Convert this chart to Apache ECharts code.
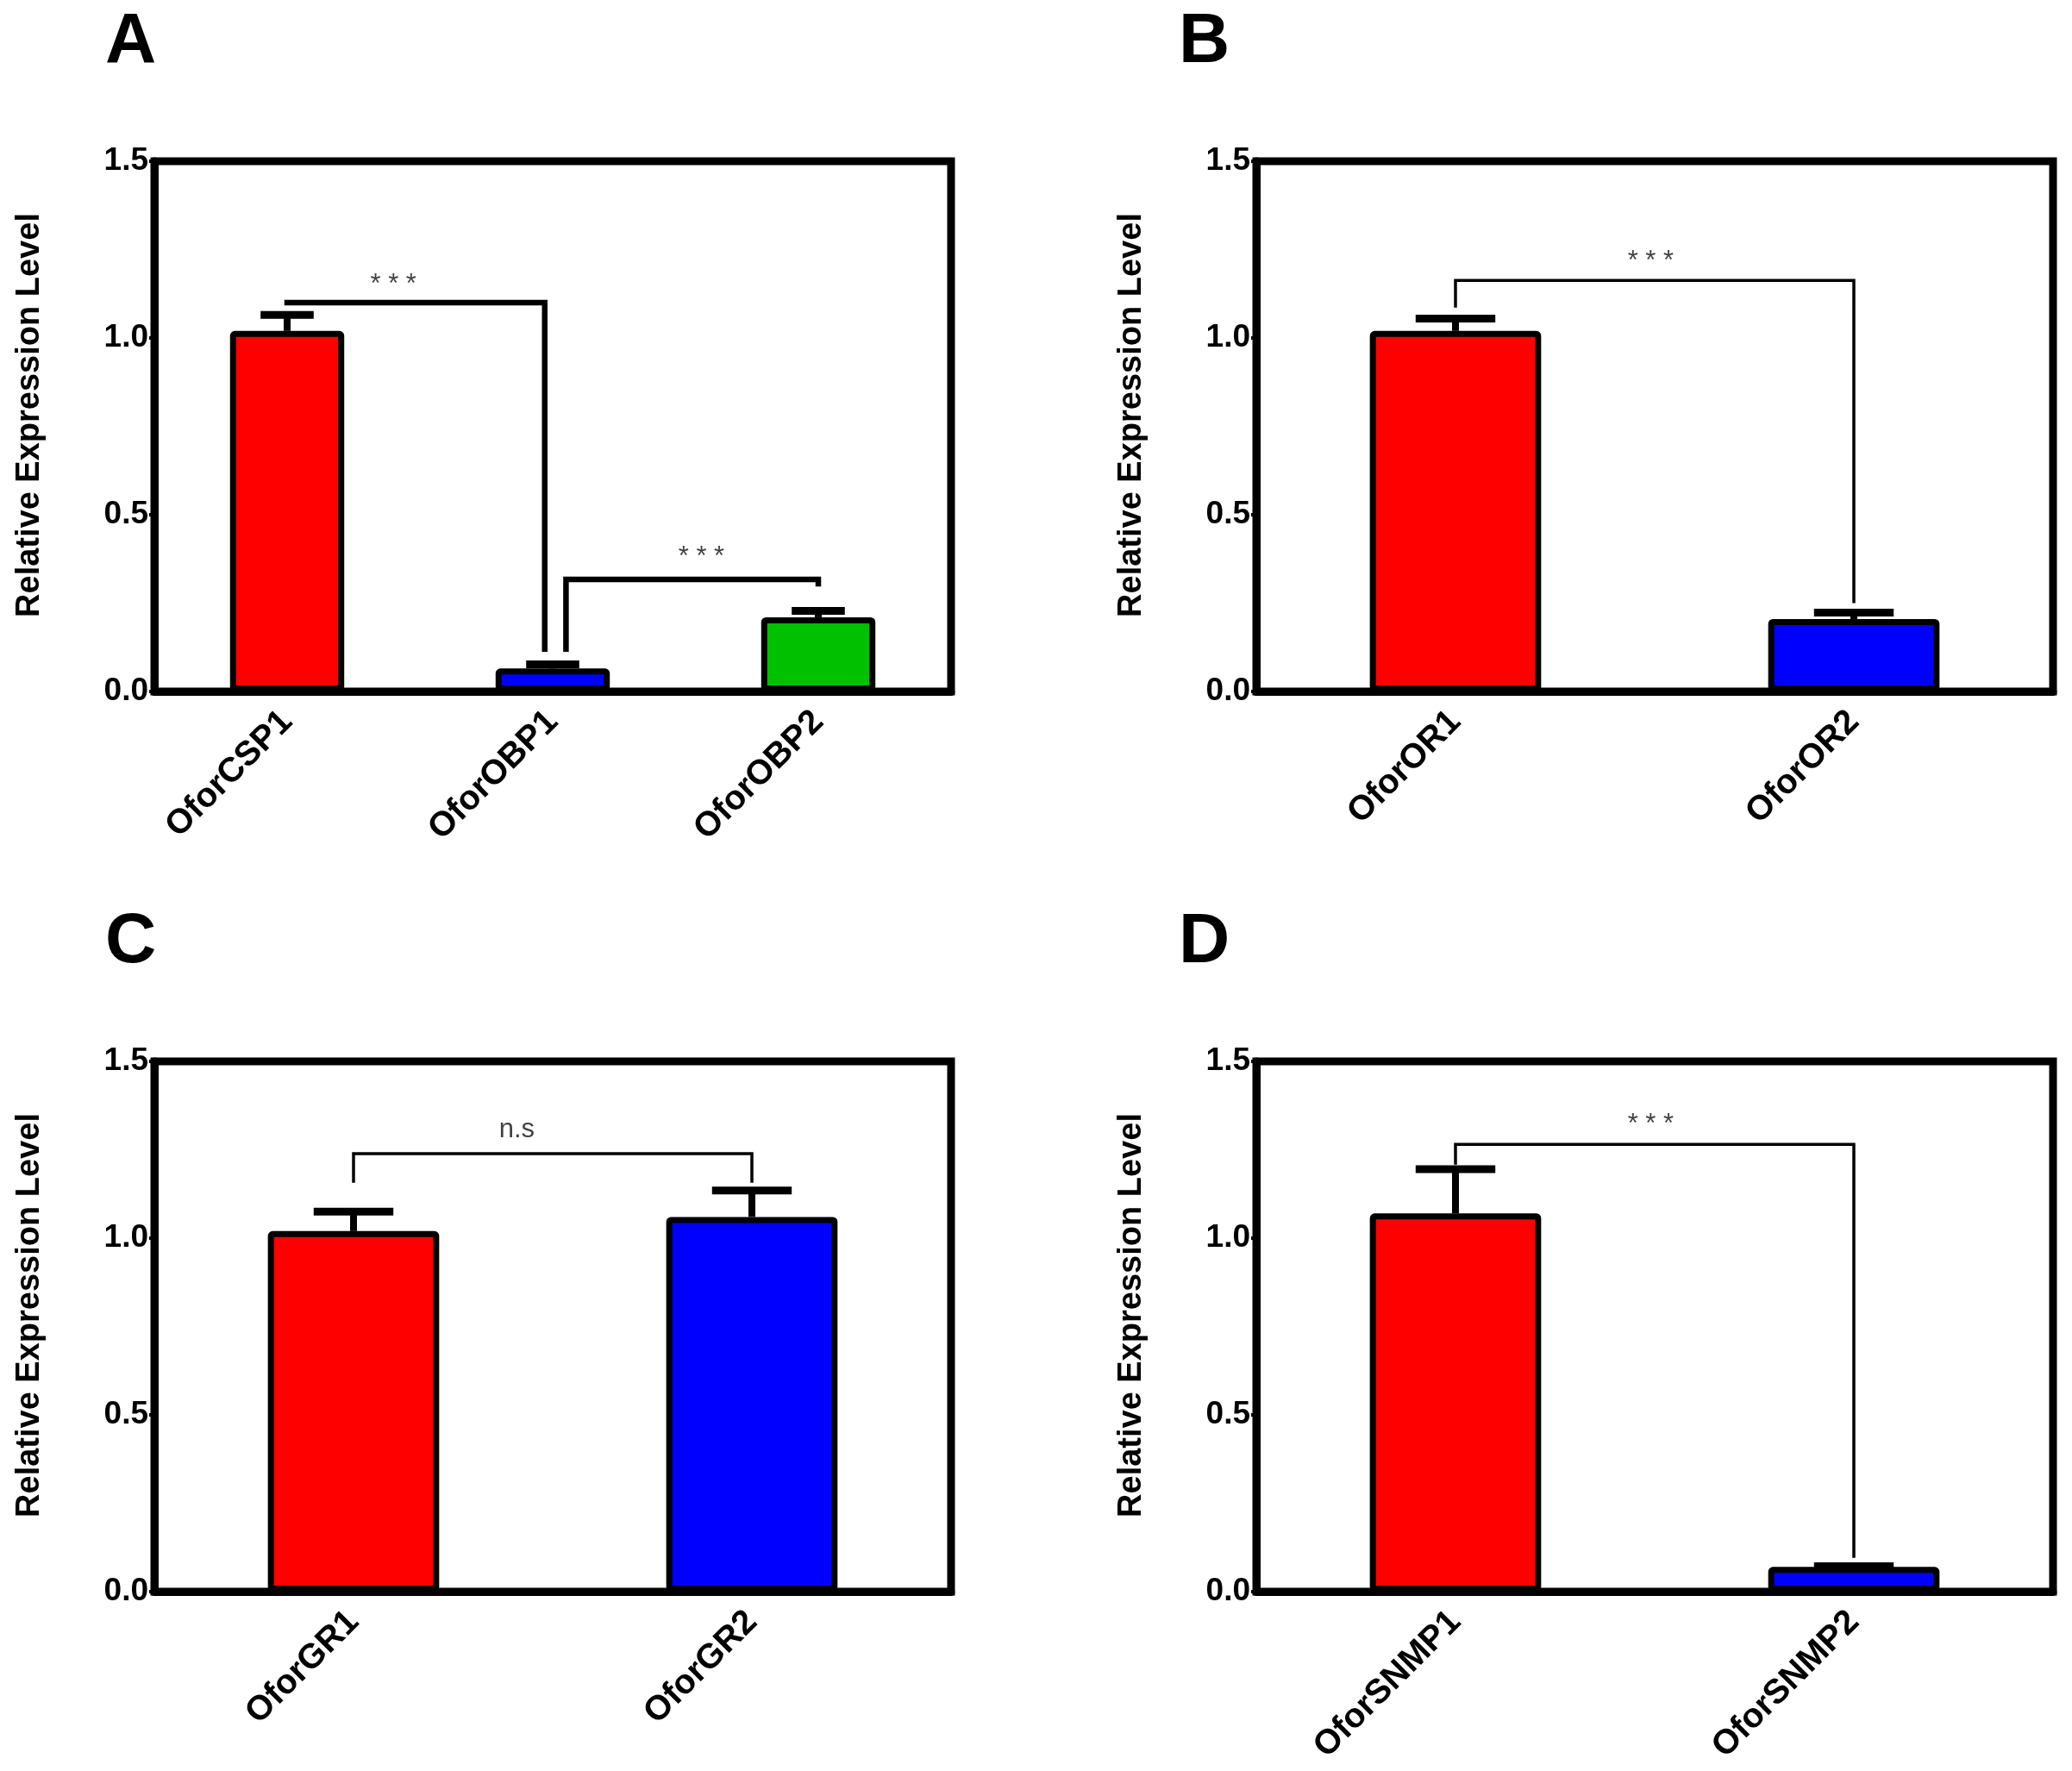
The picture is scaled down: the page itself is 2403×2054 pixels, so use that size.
<!DOCTYPE html>
<html>
<head>
<meta charset="utf-8">
<title>Relative Expression Level</title>
<script src="https://cdn.jsdelivr.net/npm/echarts@6.0.0/dist/echarts.min.js"></script>
<style>
  html, body { margin: 0; padding: 0; background: #fff; }
  #chart { width: 2403px; height: 2054px; }
</style>
</head>
<body>
<div id="chart"></div>
<script>
// panel A
var catsA = ['OforCSP1', 'OforOBP1', 'OforOBP2'];
var meanA = [1.02, 0.065, 0.21];
var errA = [0.045, 0.012, 0.018];
var colorsA = ['#ff0000', '#0000ff', '#00c000'];
var bracketsA = [
  [[0, 1.10], [0.97, 1.10], [0.97, 0.12]],
  [[1.05, 0.12], [1.05, 0.317], [2, 0.317], [2, 0.305]]
];
var sigA = [[0.40, 1.149, '* * *'], [1.56, 0.38, '* * *']];

// panel B
var catsB = ['OforOR1', 'OforOR2'];
var meanB = [1.02, 0.205];
var errB = [0.035, 0.018];
var colorsB = ['#ff0000', '#0000ff'];
var bracketsB = [
  [[0, 1.09], [0, 1.163], [1, 1.163], [1, 0.254]]
];
var sigB = [[0.49, 1.217, '* * *']];

// panel C
var catsC = ['OforGR1', 'OforGR2'];
var meanC = [1.02, 1.06];
var errC = [0.055, 0.075];
var colorsC = ['#ff0000', '#0000ff'];
var bracketsC = [
  [[0, 1.161], [0, 1.239], [1, 1.239], [1, 1.161]]
];
var sigC = [[0.41, 1.307, 'n.s']];

// panel D
var catsD = ['OforSNMP1', 'OforSNMP2'];
var meanD = [1.07, 0.07];
var errD = [0.125, 0.002];
var colorsD = ['#ff0000', '#0000ff'];
var bracketsD = [
  [[0, 1.212], [0, 1.265], [1, 1.265], [1, 0.10]]
];
var sigD = [[0.49, 1.32, '* * *']];

var yTicks = [0, 0.5, 1.0, 1.5];
var yName = 'Relative Expression Level';
var panelLetters = ['A', 'B', 'C', 'D'];

var FONT = '"Liberation Sans", Arial, sans-serif';

var panels = [
  { cats: catsA, mean: meanA, err: errA, colors: colorsA, brackets: bracketsA, sig: sigA, bw: 6.5 },
  { cats: catsB, mean: meanB, err: errB, colors: colorsB, brackets: bracketsB, sig: sigB, bw: 3.5 },
  { cats: catsC, mean: meanC, err: errC, colors: colorsC, brackets: bracketsC, sig: sigC, bw: 3.5 },
  { cats: catsD, mean: meanD, err: errD, colors: colorsD, brackets: bracketsD, sig: sigD, bw: 3.5 }
];

var gridPos = [
  { left: 179, top: 187 },
  { left: 1457, top: 187 },
  { left: 179, top: 1231 },
  { left: 1457, top: 1231 }
];
var letterPos = [[122, 48], [1367, 48], [122, 1092], [1367, 1092]];

function renderErr(params, api) {
  var x = api.value(0), y = api.value(1), e = api.value(2);
  var base = api.coord([x, y]);
  var top = api.coord([x, y + e]);
  var half = api.size([1, 0])[0] * 0.1;
  return {
    type: 'group',
    children: [
      { type: 'line', shape: { x1: base[0], y1: base[1], x2: top[0], y2: top[1] },
        style: { stroke: '#000', lineWidth: 8 } },
      { type: 'line', shape: { x1: top[0] - half, y1: top[1], x2: top[0] + half, y2: top[1] },
        style: { stroke: '#000', lineWidth: 9 } }
    ]
  };
}

var grid = [], xAxis = [], yAxis = [], series = [], graphic = [];

for (var i = 0; i < panels.length; i++) {
  var p = panels[i];
  grid.push({
    left: gridPos[i].left, top: gridPos[i].top, width: 924, height: 615,
    show: true, borderColor: '#000', borderWidth: 9, backgroundColor: 'transparent'
  });
  xAxis.push({
    type: 'category', gridIndex: i, data: p.cats,
    axisLine: { onZero: false, lineStyle: { color: '#000', width: 9 } },
    axisTick: { alignWithLabel: true, length: 6, lineStyle: { color: '#000', width: 4 } },
    axisLabel: {
      rotate: 45, margin: 29,
      color: '#000', fontSize: 40, fontWeight: 'bold', fontFamily: FONT
    },
    splitLine: { show: false }
  });
  xAxis.push({
    type: 'value', gridIndex: i, min: -0.5, max: p.cats.length - 0.5, show: false
  });
  yAxis.push({
    type: 'value', gridIndex: i, min: 0, max: 1.5, interval: 0.5,
    name: yName, nameLocation: 'middle', nameGap: 125,
    nameTextStyle: {
      color: '#000', fontSize: 38, fontWeight: 'bold', fontFamily: FONT,
      padding: [0, 0, 0, 26]
    },
    axisLine: { show: true, onZero: false, lineStyle: { color: '#000', width: 9 } },
    axisTick: { show: true, length: 6, lineStyle: { color: '#000', width: 4 } },
    axisLabel: {
      margin: 7, color: '#000', fontSize: 37, fontWeight: 'bold', fontFamily: FONT,
      formatter: function (v) { return v.toFixed(1); }
    },
    splitLine: { show: false }
  });

  var barData = [], errData = [];
  for (var k = 0; k < p.mean.length; k++) {
    barData.push({ value: p.mean[k], itemStyle: { color: p.colors[k] } });
    errData.push([k, p.mean[k], p.err[k]]);
  }
  series.push({
    type: 'custom', xAxisIndex: 2 * i, yAxisIndex: i,
    renderItem: renderErr, data: errData, z: 2, silent: true
  });
  series.push({
    type: 'bar', xAxisIndex: 2 * i, yAxisIndex: i, data: barData,
    barWidth: '43%', z: 3,
    itemStyle: { borderColor: '#000', borderWidth: 7, borderRadius: 2 }
  });
  for (var b = 0; b < p.brackets.length; b++) {
    series.push({
      type: 'line', xAxisIndex: 2 * i + 1, yAxisIndex: i, data: p.brackets[b],
      symbol: 'none', z: 4,
      lineStyle: { color: '#000', width: p.bw, cap: 'square', join: 'miter' }
    });
  }
  var sigData = [];
  for (var s = 0; s < p.sig.length; s++) {
    sigData.push({ value: [p.sig[s][0], p.sig[s][1]], name: p.sig[s][2] });
  }
  series.push({
    type: 'scatter', xAxisIndex: 2 * i + 1, yAxisIndex: i, data: sigData,
    symbolSize: 0, z: 5,
    label: {
      show: true, position: 'inside',
      formatter: function (d) { return d.name; },
      color: '#111', fontSize: 31, fontFamily: FONT
    }
  });

  graphic.push({
    type: 'text', left: letterPos[i][0], top: letterPos[i][1] - 40,
    style: { text: panelLetters[i], fill: '#000', font: 'bold 82px ' + FONT }
  });
}

var chart = echarts.init(document.getElementById('chart'));
chart.setOption({
  backgroundColor: '#fff',
  animation: false,
  grid: grid,
  xAxis: xAxis,
  yAxis: yAxis,
  series: series,
  graphic: graphic
});
</script>
</body>
</html>
